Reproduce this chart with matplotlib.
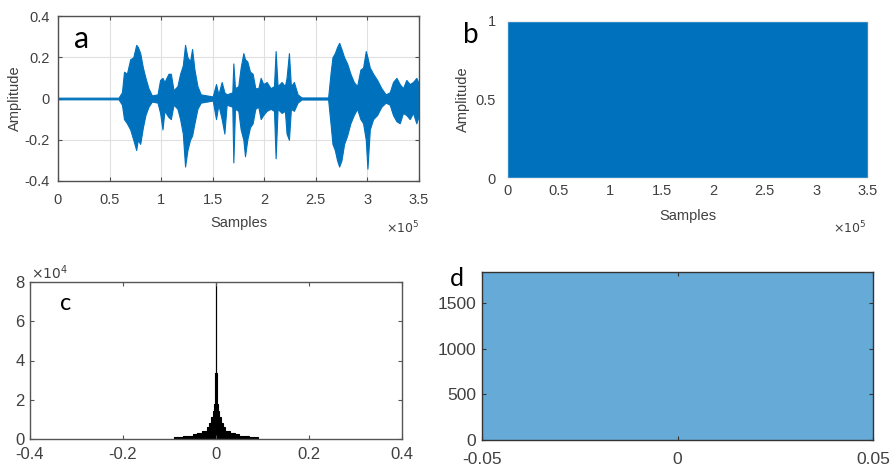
import numpy as np
import matplotlib
matplotlib.use('Agg')
import matplotlib.pyplot as plt

plt.rcParams['font.family'] = ['Liberation Sans', 'DejaVu Sans']

# (a) speech signal envelope (x in units of 1e5 samples)
env_x = [0, 0.587, 0.62, 0.64, 0.668, 0.70, 0.73, 0.758, 0.774, 0.797, 0.823, 0.848, 0.877, 0.91,
         0.965, 0.99, 1.013, 1.032, 1.071, 1.094, 1.12, 1.158, 1.184, 1.21, 1.232, 1.255, 1.28,
         1.30, 1.323, 1.352, 1.384, 1.5, 1.532, 1.555, 1.587, 1.613, 1.635, 1.69, 1.70, 1.716,
         1.748, 1.771, 1.797, 1.813, 1.835, 1.861, 1.887, 1.913, 1.942, 1.965, 1.99, 2.023,
         2.061, 2.094, 2.11, 2.129, 2.168, 2.2, 2.216, 2.239, 2.258, 2.287, 2.323, 2.361,
         2.619, 2.642, 2.661, 2.684, 2.706, 2.726, 2.748, 2.774, 2.803, 2.835, 2.868, 2.9,
         2.932, 2.958, 2.984, 3.0, 3.023, 3.055, 3.094, 3.135, 3.177, 3.216, 3.248, 3.281,
         3.313, 3.345, 3.377, 3.41, 3.442, 3.474, 3.5]
env_top = [0.004, 0.004, 0.03, 0.13, 0.12, 0.19, 0.2, 0.26, 0.25, 0.22, 0.15, 0.1, 0.05, 0.015,
           0.02, 0.09, 0.1, 0.08, 0.12, 0.12, 0.04, 0.06, 0.12, 0.16, 0.26, 0.2, 0.18,
           0.24, 0.14, 0.06, 0.02, 0.01, 0.07, 0.02, 0.08, 0.03, 0.02, 0.03, 0.17, 0.05,
           0.06, 0.15, 0.22, 0.19, 0.18, 0.13, 0.12, 0.05, 0.05, 0.1, 0.07, 0.08,
           0.05, 0.06, 0.23, 0.06, 0.08, 0.06, 0.1, 0.22, 0.06, 0.08, 0.02, 0.005,
           0.005, 0.12, 0.2, 0.22, 0.25, 0.27, 0.24, 0.2, 0.17, 0.12, 0.08, 0.06,
           0.14, 0.15, 0.23, 0.2, 0.15, 0.12, 0.09, 0.05, 0.02, 0.03, 0.08, 0.1,
           0.07, 0.05, 0.09, 0.07, 0.08, 0.1, 0.07]
env_bot = [-0.004, -0.004, -0.03, -0.1, -0.12, -0.15, -0.2, -0.25, -0.2, -0.22, -0.14, -0.08, -0.04, -0.015,
           -0.02, -0.07, -0.15, -0.06, -0.09, -0.1, -0.03, -0.05, -0.1, -0.17, -0.33, -0.25, -0.2,
           -0.18, -0.12, -0.05, -0.02, -0.01, -0.1, -0.03, -0.1, -0.17, -0.03, -0.04, -0.31, -0.05,
           -0.06, -0.15, -0.2, -0.28, -0.2, -0.14, -0.12, -0.05, -0.04, -0.1, -0.08, -0.06,
           -0.05, -0.06, -0.29, -0.05, -0.07, -0.06, -0.17, -0.2, -0.05, -0.06, -0.02, -0.005,
           -0.005, -0.12, -0.22, -0.25, -0.3, -0.33, -0.3, -0.22, -0.18, -0.12, -0.08, -0.05,
           -0.1, -0.12, -0.2, -0.34, -0.15, -0.1, -0.08, -0.04, -0.02, -0.03, -0.08, -0.11,
           -0.12, -0.07, -0.08, -0.1, -0.07, -0.12, -0.08]

# (b) binary sequence, fills 0..1 over the whole length
seq_x = [0, 3.5]
seq_hi = [1, 1]

# (c) histogram of the speech amplitude
hist_c_edges = [-0.09, -0.08, -0.07, -0.06, -0.05, -0.04, -0.03, -0.02, -0.015, -0.01, -0.0075,
                -0.005, -0.0025, -0.001, 0.001, 0.0025, 0.005, 0.0075, 0.01, 0.015, 0.02, 0.03,
                0.04, 0.05, 0.06, 0.07, 0.08, 0.09]
hist_c_counts = [1000, 1100, 1300, 1700, 2300, 3000, 4300, 6000, 8000, 11000, 14500, 18000, 33500,
                 80000, 33500, 18000, 14500, 11000, 8000, 6000, 4300, 3000, 2300, 1700, 1300, 1100, 1000]

# (d) histogram of the uniform sequence
hist_d_edges = [-0.05, -0.04, -0.03, -0.02, -0.01, 0, 0.01, 0.02, 0.03, 0.04, 0.05]
hist_d_counts = [1850, 1850, 1850, 1850, 1850, 1850, 1850, 1850, 1850, 1850]

samp_ticks = [0, 0.5, 1, 1.5, 2, 2.5, 3, 3.5]
samp_labels = ['0', '0.5', '1', '1.5', '2', '2.5', '3', '3.5']

blue = '#0072BD'
tick_col = '#404040'
W, H = 894, 470

fig = plt.figure(figsize=(W / 100, H / 100), dpi=100)


def box_axes(rect, spine_col, size):
    ax = fig.add_axes(rect)
    ax.tick_params(direction='in', length=3, top=True, right=True, labelsize=size,
                   labelcolor=tick_col, color=spine_col, pad=4)
    for s in ax.spines.values():
        s.set_color(spine_col)
        s.set_linewidth(1.0)
    return ax


# panel a
ax_a = box_axes([58 / W, 1 - 181 / H, 361 / W, 165 / H], '#505050', 10.5)
ax_a.fill_between(np.array(env_x) * 1e5, env_bot, env_top, color=blue, lw=0.8, edgecolor=blue)
ax_a.set_xlim(0, 3.5e5)
ax_a.set_ylim(-0.4, 0.4)
ax_a.set_xticks(np.array(samp_ticks) * 1e5, samp_labels)
ax_a.set_yticks([-0.4, -0.2, 0, 0.2, 0.4], ['-0.4', '-0.2', '0', '0.2', '0.4'])
ax_a.tick_params(axis='x', pad=9)
ax_a.tick_params(axis='y', pad=6)
ax_a.grid(True, color='#e0e0e0', lw=0.8)
ax_a.set_axisbelow(True)
ax_a.set_xlabel('Samples', fontsize=10.5, color=tick_col, labelpad=6)
ax_a.set_ylabel('Amplitude', fontsize=10.5, color=tick_col, labelpad=2)
fig.text(386 / W, 1 - 228 / H, r'$\times10^{5}$', fontsize=9, color=tick_col, va='center')
fig.text(82 / W, 1 - 39 / H, 'a', fontsize=22, family='Lato', ha='center', va='center')

# panel b
ax_b = box_axes([507 / W, 1 - 178 / H, 361 / W, 157 / H], '#f0f0f0', 10.5)
ax_b.fill_between(np.array(seq_x) * 1e5, 0, seq_hi, color=blue, lw=0)
ax_b.set_xlim(0, 3.5e5)
ax_b.set_ylim(0, 1)
ax_b.set_xticks(np.array(samp_ticks) * 1e5, samp_labels)
ax_b.set_yticks([0, 0.5, 1], ['0', '0.5', '1'])
ax_b.tick_params(length=0)
ax_b.tick_params(axis='y', pad=8)
ax_b.set_xlabel('Samples', fontsize=10.5, color=tick_col, labelpad=8)
ax_b.set_ylabel('Amplitude', fontsize=10.5, color=tick_col, labelpad=4)
fig.text(833 / W, 1 - 228 / H, r'$\times10^{5}$', fontsize=9, color=tick_col, va='center')
fig.text(471 / W, 1 - 35 / H, 'b', fontsize=20, family='Lato', ha='center', va='center')

# panel c
ax_c = box_axes([30 / W, 1 - 439 / H, 372 / W, 157 / H], '#555555', 12)
ax_c.stairs(hist_c_counts, hist_c_edges, fill=True, color='black')
ax_c.stairs(hist_c_counts, hist_c_edges, color='black', lw=0.8)
ax_c.set_xlim(-0.4, 0.4)
ax_c.set_ylim(0, 8e4)
ax_c.set_xticks([-0.4, -0.2, 0, 0.2, 0.4], ['-0.4', '-0.2', '0', '0.2', '0.4'])
ax_c.set_yticks([0, 2e4, 4e4, 6e4, 8e4], ['0', '2', '4', '6', '8'])
ax_c.tick_params(axis='x', pad=6)
fig.text(31 / W, 1 - 273 / H, r'$\times10^{4}$', fontsize=10, color=tick_col, va='center')
fig.text(66 / W, 1 - 304 / H, 'c', fontsize=17, family='Lato', ha='center', va='center')

# panel d
ax_d = box_axes([482 / W, 1 - 440 / H, 391 / W, 168 / H], '#333333', 12.5)
ax_d.stairs(hist_d_counts, hist_d_edges, fill=True, color='#66aad7')
ax_d.set_xlim(-0.05, 0.05)
ax_d.set_ylim(0, 1840)
ax_d.set_xticks([-0.05, 0, 0.05], ['-0.05', '0', '0.05'])
ax_d.set_yticks([0, 500, 1000, 1500], ['0', '500', '1000', '1500'])
ax_d.tick_params(axis='x', pad=9)
fig.text(457 / W, 1 - 278 / H, 'd', fontsize=18, family='Lato', ha='center', va='center')

fig.savefig('out.png', dpi=100)
